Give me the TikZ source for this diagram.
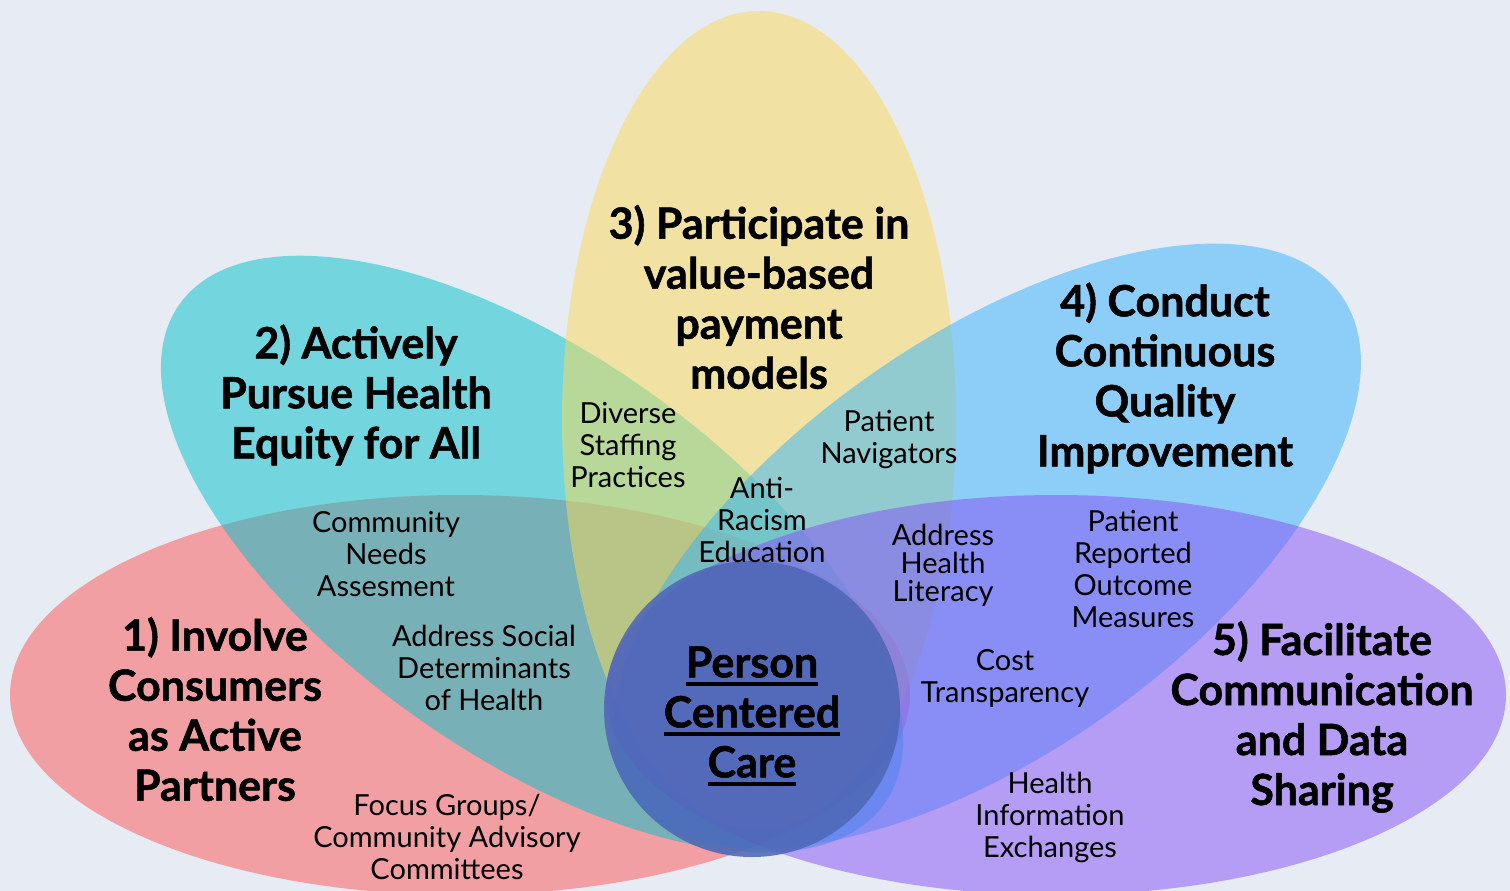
\documentclass[tikz,border=0pt]{standalone}
\usepackage{fontspec}
\setmainfont{Lato}[BoldFeatures={FakeBold=1.2}]
\definecolor{bgc}{RGB}{231,235,244}
\definecolor{cred}{RGB}{253,85,86}
\definecolor{cteal}{RGB}{0,193,202}
\definecolor{cyel}{RGB}{251,219,86}
\definecolor{cblue}{RGB}{51,179,250}
\definecolor{cpurp}{RGB}{133,79,246}
\definecolor{ccirc}{RGB}{78,103,182}
\newcommand{\pcul}[1]{\setbox0\hbox{#1}\rlap{\smash{\raisebox{-9pt}{\rule{\wd0}{4pt}}}}\box0}
\tikzset{
  petal/.style={fill opacity=0.5},
  head/.style={font=\fontsize{43}{50}\selectfont\bfseries, align=center, inner sep=0pt, text=black},
  item/.style={font=\fontsize{29}{32}\selectfont, align=center, inner sep=0pt, text=black},
}
\begin{document}
\begin{tikzpicture}[x=1pt,y=-1pt]
\useasboundingbox (0,0) rectangle (1510,891);
\fill[bgc] (0,0) rectangle (1510,891);
% petals
\fill[cred, petal] (460,695) ellipse [x radius=450, y radius=200];
\fill[cteal, petal, rotate around={-35.3:(532,554)}] (532,554) ellipse [x radius=432, y radius=200];
\fill[cyel, petal] (759,420) ellipse [x radius=197, y radius=409];
\fill[cblue, petal, rotate around={35.3:(987,546)}] (987,546) ellipse [x radius=434, y radius=207];
\fill[cpurp, petal] (1056,695) ellipse [x radius=450, y radius=200];
% centre
\fill[ccirc, fill opacity=0.88] (752,709) circle [radius=148];
% headings
\node[head] (h1) at (215,709) {1) Involve\\Consumers\\as Active\\Partners};
\node[head] (h2) at (356,395) {2) Actively\\Pursue Health\\Equity for All};
\node[head] (h3) at (759,297) {3) Participate in\\value-based\\payment\\models};
\node[head] (h4) at (1165,378) {4) Conduct\\Continuous\\Quality\\Improvement};
\node[head] (h5) at (1322,717) {5) Facilitate\\Communication\\and Data\\Sharing};
\node[head] (pcc) at (752,712) {\pcul{Person}\\\pcul{Centered}\\\pcul{Care}};
% items
\node[item] (cna) at (386,554) {Community\\Needs\\Assesment};
\node[item] (asd) at (484,668) {Address Social\\Determinants\\of Health};
\node[item] (fg) at (447,837) {Focus Groups/\\Community Advisory\\Committees};
\node[item] (dsp) at (628,445) {Diverse\\Staffing\\Practices};
\node[item] (pn) at (889,440) {Patient\\Navigators};
\node[item] (are) at (762,520) {Anti-\\Racism\\Education};
\node[item, font=\fontsize{29}{28}\selectfont] (ahl) at (943,565) {Address\\Health\\Literacy};
\node[item] (prom) at (1133,569) {Patient\\Reported\\Outcome\\Measures};
\node[item] (ct) at (1005,678) {Cost\\Transparency};
\node[item] (hie) at (1050,817) {Health\\Information\\Exchanges};
\end{tikzpicture}
\end{document}
